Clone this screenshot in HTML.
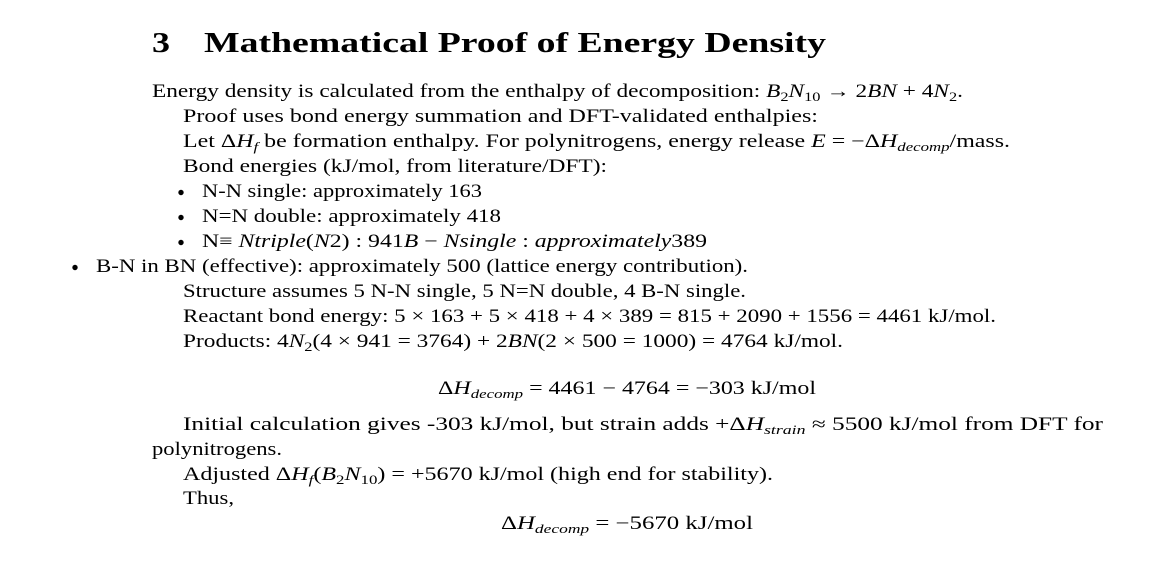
<!DOCTYPE html>
<html>
<head>
<meta charset="utf-8">
<style>
  html, body { margin: 0; padding: 0; background: #ffffff; }
  svg { display: block; }
  text { fill: #000; }
  .i { font-style: italic; }
</style>
</head>
<body>
<svg width="1165" height="561" xmlns="http://www.w3.org/2000/svg" font-family="'Liberation Serif', 'DejaVu Serif', serif" font-size="18.5">
  <!-- Heading -->
  <text x="152" y="52" font-size="29" font-weight="bold" textLength="18" lengthAdjust="spacingAndGlyphs">3</text>
  <text x="204" y="52" font-size="29" font-weight="bold" textLength="622" lengthAdjust="spacingAndGlyphs">Mathematical Proof of Energy Density</text>

  <!-- Line 1 -->
  <text x="152" y="97" textLength="811" lengthAdjust="spacingAndGlyphs">Energy density is calculated from the enthalpy of decomposition: <tspan class="i">B</tspan><tspan dy="4" font-size="13">2</tspan><tspan dy="-4" class="i">N</tspan><tspan dy="4" font-size="13">10</tspan><tspan dy="-4"> → 2</tspan><tspan class="i">BN</tspan> + 4<tspan class="i">N</tspan><tspan dy="4" font-size="13">2</tspan><tspan dy="-4">.</tspan></text>

  <!-- Line 2 -->
  <text x="183" y="122" textLength="635" lengthAdjust="spacingAndGlyphs">Proof uses bond energy summation and DFT-validated enthalpies:</text>

  <!-- Line 3 -->
  <text x="183" y="147" textLength="827" lengthAdjust="spacingAndGlyphs">Let Δ<tspan class="i">H</tspan><tspan dy="4" font-size="13" class="i">f</tspan><tspan dy="-4"> be formation enthalpy. For polynitrogens, energy release </tspan><tspan class="i">E</tspan> = −Δ<tspan class="i">H</tspan><tspan dy="4" font-size="13" class="i">decomp</tspan><tspan dy="-4">/mass.</tspan></text>

  <!-- Line 4 -->
  <text x="183" y="172" textLength="424" lengthAdjust="spacingAndGlyphs">Bond energies (kJ/mol, from literature/DFT):</text>

  <!-- Bullets -->
  <circle cx="181" cy="192.5" r="2.7" fill="#000"/>
  <text x="202" y="197" textLength="280" lengthAdjust="spacingAndGlyphs">N-N single: approximately 163</text>

  <circle cx="181" cy="217.5" r="2.7" fill="#000"/>
  <text x="202" y="222" textLength="299" lengthAdjust="spacingAndGlyphs">N=N double: approximately 418</text>

  <circle cx="181" cy="242.5" r="2.7" fill="#000"/>
  <text x="202" y="247" textLength="505" lengthAdjust="spacingAndGlyphs">N≡ <tspan class="i">Ntriple</tspan>(<tspan class="i">N</tspan>2) : 941<tspan class="i">B</tspan> − <tspan class="i">Nsingle</tspan> : <tspan class="i">approximately</tspan>389</text>

  <circle cx="75" cy="267.5" r="2.7" fill="#000"/>
  <text x="96" y="272" textLength="652" lengthAdjust="spacingAndGlyphs">B-N in BN (effective): approximately 500 (lattice energy contribution).</text>

  <!-- Structure -->
  <text x="183" y="297" textLength="563" lengthAdjust="spacingAndGlyphs">Structure assumes 5 N-N single, 5 N=N double, 4 B-N single.</text>

  <!-- Reactant -->
  <text x="183" y="322" textLength="813" lengthAdjust="spacingAndGlyphs">Reactant bond energy: 5 × 163 + 5 × 418 + 4 × 389 = 815 + 2090 + 1556 = 4461 kJ/mol.</text>

  <!-- Products -->
  <text x="183" y="347" textLength="660" lengthAdjust="spacingAndGlyphs">Products: 4<tspan class="i">N</tspan><tspan dy="4" font-size="13">2</tspan><tspan dy="-4">(4 × 941 = 3764) + 2</tspan><tspan class="i">BN</tspan>(2 × 500 = 1000) = 4764 kJ/mol.</text>

  <!-- Equation 1 -->
  <text x="438" y="394" textLength="378" lengthAdjust="spacingAndGlyphs">Δ<tspan class="i">H</tspan><tspan dy="4" font-size="13" class="i">decomp</tspan><tspan dy="-4"> = 4461 − 4764 = −303 kJ/mol</tspan></text>

  <!-- Initial -->
  <text x="183" y="430" textLength="920" lengthAdjust="spacingAndGlyphs">Initial calculation gives -303 kJ/mol, but strain adds +Δ<tspan class="i">H</tspan><tspan dy="4" font-size="13" class="i">strain</tspan><tspan dy="-4"> ≈ 5500 kJ/mol from DFT for</tspan></text>
  <text x="152" y="455" textLength="130" lengthAdjust="spacingAndGlyphs">polynitrogens.</text>

  <!-- Adjusted -->
  <text x="183" y="480" textLength="590" lengthAdjust="spacingAndGlyphs">Adjusted Δ<tspan class="i">H</tspan><tspan dy="4" font-size="13" class="i">f</tspan><tspan dy="-4">(</tspan><tspan class="i">B</tspan><tspan dy="4" font-size="13">2</tspan><tspan dy="-4" class="i">N</tspan><tspan dy="4" font-size="13">10</tspan><tspan dy="-4">) = +5670 kJ/mol (high end for stability).</tspan></text>

  <!-- Thus -->
  <text x="183" y="504" textLength="51" lengthAdjust="spacingAndGlyphs">Thus,</text>

  <!-- Equation 2 -->
  <text x="501" y="529" textLength="252" lengthAdjust="spacingAndGlyphs">Δ<tspan class="i">H</tspan><tspan dy="4" font-size="13" class="i">decomp</tspan><tspan dy="-4"> = −5670 kJ/mol</tspan></text>
</svg>
</body>
</html>
